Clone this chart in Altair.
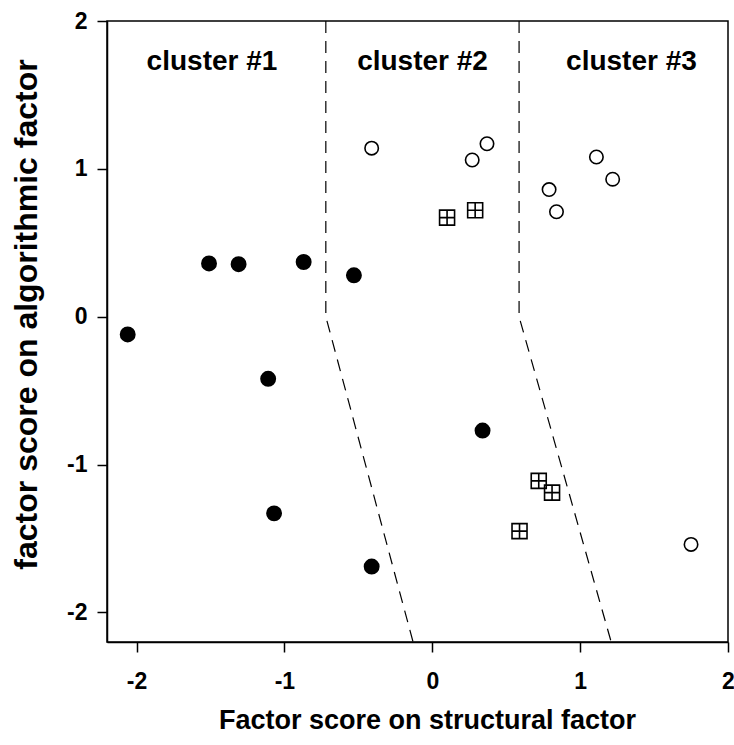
import altair as alt
import pandas as pd

# filled circles
filled_x = [-2.06, -1.51, -1.31, -0.87, -0.53, -1.11, -1.07, -0.41, 0.34]
filled_y = [-0.12, 0.36, 0.355, 0.37, 0.28, -0.42, -1.33, -1.69, -0.77]
# open circles
open_x = [-0.41, 0.27, 0.37, 0.79, 0.84, 1.11, 1.22, 1.75]
open_y = [1.14, 1.06, 1.17, 0.86, 0.71, 1.08, 0.93, -1.54]
# crossed squares
sq_x = [0.10, 0.29, 0.72, 0.81, 0.59]
sq_y = [0.67, 0.72, -1.11, -1.19, -1.45]

# cluster boundaries (dashed)
b1_x = [-0.72, -0.72, -0.13]
b2_x = [0.587, 0.587, 1.21]
b_y = [2.0, 0.0, -2.2]

cl_labels = ["cluster #1", "cluster #2", "cluster #3"]
cl_x = [-1.49, -0.066, 1.347]
cl_y = [1.668, 1.668, 1.668]

tick_vals = [-2, -1, 0, 1, 2]

FONT = "Liberation Sans"
xs = alt.Scale(domain=[-2.2, 2.0], nice=False, zero=False)
ys = alt.Scale(domain=[-2.2, 2.0], nice=False, zero=False)

xax = alt.Axis(values=tick_vals, title="Factor score on structural factor",
               grid=False, tickSize=10, tickWidth=1.5, domainWidth=1.5, domainColor="black",
               tickColor="black", labelFont=FONT, labelFontSize=23, labelFontWeight="bold",
               labelColor="black", labelPadding=18, titleFont=FONT, titleFontSize=27,
               titleFontWeight="bold", titleColor="black", titleBaseline="alphabetic",
               titleY=86, titleX=320, labelFlush=False, labelExpr="'' + datum.value")
yax = alt.Axis(values=tick_vals, title="factor score on algorithmic factor",
               grid=False, tickSize=10, tickWidth=1.5, domainWidth=1.5, domainColor="black",
               tickColor="black", labelFont=FONT, labelFontSize=23, labelFontWeight="bold",
               labelColor="black", labelPadding=10, titleFont=FONT, titleFontSize=32,
               titleFontWeight="bold", titleColor="black", titleBaseline="alphabetic",
               titleX=-71, titleY=293, titleAngle=270, labelFlush=False,
               labelExpr="'' + datum.value")

bdf = pd.DataFrame({
    "x": b1_x + b2_x,
    "y": b_y + b_y,
    "g": ["b1"] * 3 + ["b2"] * 3,
    "o": [0, 1, 2, 0, 1, 2],
})
fdf = pd.DataFrame({"x": filled_x, "y": filled_y})
odf = pd.DataFrame({"x": open_x, "y": open_y})
sdf = pd.DataFrame({"x": sq_x, "y": sq_y})
ldf = pd.DataFrame({"x": cl_x, "y": cl_y, "t": cl_labels})

lines = alt.Chart(bdf).mark_line(color="black", strokeWidth=1.2, strokeDash=[12, 8], clip=True).encode(
    x=alt.X("x:Q", scale=xs, axis=xax),
    y=alt.Y("y:Q", scale=ys, axis=yax),
    detail="g:N",
    order="o:Q",
)

filled = alt.Chart(fdf).mark_point(shape="circle", filled=True, color="black", size=254, opacity=1).encode(
    x=alt.X("x:Q", scale=xs), y=alt.Y("y:Q", scale=ys))

opened = alt.Chart(odf).mark_point(shape="circle", filled=False, color="black", size=180,
                                   strokeWidth=1.6, opacity=1).encode(
    x=alt.X("x:Q", scale=xs), y=alt.Y("y:Q", scale=ys))

squares = alt.Chart(sdf).mark_point(shape="M-1,-1H1V1H-1Z M0,-1V1 M-1,0H1", filled=False, color="black",
                                    size=225, strokeWidth=1.6, opacity=1).encode(
    x=alt.X("x:Q", scale=xs), y=alt.Y("y:Q", scale=ys))

labels = alt.Chart(ldf).mark_text(font=FONT, fontSize=28, fontWeight="bold", color="black",
                                  align="center", baseline="alphabetic").encode(
    x=alt.X("x:Q", scale=xs), y=alt.Y("y:Q", scale=ys), text="t:N")

chart = alt.layer(lines, filled, opened, squares, labels).properties(
    width=621, height=621,
    autosize=alt.AutoSizeParams(type="none"),
    padding={"left": 107, "top": 21, "right": 6, "bottom": 103},
    background="white",
).configure_view(stroke="black", strokeWidth=1.5)

chart.save("out.html", embed_options={"renderer": "svg", "actions": False})
